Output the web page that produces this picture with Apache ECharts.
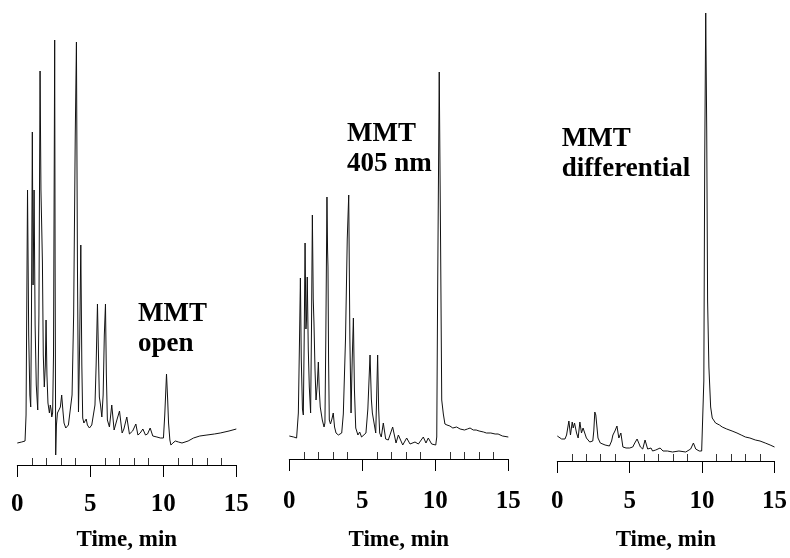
<!DOCTYPE html>
<html>
<head>
<meta charset="utf-8">
<script src="https://cdn.jsdelivr.net/npm/echarts@6/dist/echarts.min.js"></script>
<style>
html, body { margin: 0; padding: 0; background: #fff; }
#main { width: 790px; height: 558px; }
</style>
</head>
<body>
<div id="main"></div>
<script>
// [retention time (min), detector response]
var openTrace = [
    [0, 22], [0.3, 23], [0.53, 24], [0.6, 50], [0.7, 275], [0.78, 130], [0.86, 70], [0.92, 58],
    [0.97, 150], [1.03, 333], [1.08, 180], [1.15, 275], [1.22, 140], [1.3, 80], [1.4, 55],
    [1.48, 150], [1.56, 394], [1.62, 275], [1.67, 240], [1.72, 203], [1.78, 110], [1.85, 78],
    [1.92, 100], [1.97, 145], [2.03, 90], [2.1, 62], [2.2, 52], [2.26, 60], [2.31, 56], [2.36, 48],
    [2.42, 52], [2.48, 110], [2.53, 300], [2.56, 425], [2.59, 200], [2.63, 10], [2.68, 40],
    [2.75, 52], [2.85, 55], [2.95, 58], [3.04, 70], [3.12, 55], [3.2, 42], [3.32, 37], [3.5, 40],
    [3.62, 42], [3.75, 70], [3.86, 150], [3.97, 330], [4.05, 423], [4.12, 200], [4.19, 53],
    [4.27, 120], [4.35, 220], [4.42, 100], [4.48, 47], [4.56, 42], [4.64, 40], [4.72, 46],
    [4.8, 40], [4.94, 37], [5.1, 40], [5.21, 42], [5.32, 60], [5.4, 100], [5.49, 161], [5.56, 110],
    [5.62, 68], [5.7, 60], [5.79, 48], [5.88, 70], [5.96, 130], [6.04, 161], [6.1, 90], [6.17, 45],
    [6.31, 38], [6.47, 60], [6.63, 35], [6.82, 45], [7.0, 54], [7.18, 32], [7.3, 36], [7.5, 48],
    [7.68, 31], [7.9, 34], [8.12, 41], [8.26, 30], [8.42, 32], [8.6, 36], [8.78, 30], [8.92, 31],
    [9.1, 37], [9.28, 29], [9.56, 28], [9.8, 27], [10.01, 27], [10.1, 50], [10.22, 91], [10.3, 65],
    [10.36, 42], [10.45, 25], [10.52, 20], [10.66, 22], [10.82, 24], [11.04, 23], [11.28, 22],
    [11.7, 24], [12.07, 27], [12.5, 29], [12.99, 30], [13.5, 31], [13.9, 32], [14.5, 34], [15, 36]
];

var nm405Trace = [
    [0, 23], [0.3, 22], [0.5, 21], [0.62, 46], [0.7, 120], [0.76, 181], [0.82, 100], [0.9, 50],
    [0.96, 44], [1.02, 120], [1.08, 216], [1.14, 130], [1.18, 140], [1.23, 182], [1.3, 110],
    [1.37, 72], [1.46, 46], [1.52, 130], [1.58, 244], [1.64, 160], [1.69, 136], [1.76, 90],
    [1.83, 59], [1.92, 75], [1.99, 97], [2.05, 70], [2.12, 52], [2.26, 39], [2.38, 32], [2.44, 36],
    [2.5, 120], [2.58, 262], [2.62, 210], [2.65, 192], [2.69, 100], [2.74, 39], [2.82, 35],
    [2.92, 40], [3.01, 46], [3.1, 32], [3.2, 26], [3.36, 24], [3.59, 26], [3.7, 45], [3.85, 120],
    [3.97, 220], [4.07, 264], [4.15, 120], [4.23, 46], [4.31, 100], [4.39, 141], [4.46, 70],
    [4.55, 31], [4.7, 24], [4.82, 27], [4.95, 22], [5.07, 21], [5.25, 26], [5.38, 50], [5.53, 104],
    [5.62, 60], [5.69, 46], [5.8, 44], [5.92, 26], [5.98, 60], [6.05, 104], [6.12, 50], [6.19, 26],
    [6.3, 22], [6.44, 36], [6.6, 20], [6.78, 19], [7.08, 32], [7.31, 16], [7.47, 24], [7.77, 14],
    [8.04, 21], [8.27, 15], [8.61, 17], [8.84, 15], [9.18, 22], [9.36, 16], [9.52, 21], [9.75, 15],
    [10.03, 14], [10.1, 22], [10.16, 166], [10.27, 387], [10.36, 220], [10.44, 59], [10.55, 45],
    [10.66, 35], [10.8, 34], [11.0, 33], [11.2, 31], [11.46, 32], [11.7, 30], [12.0, 29],
    [12.2, 30], [12.38, 31], [12.6, 29], [12.8, 29], [13.0, 28], [13.3, 27], [13.5, 26],
    [13.8, 26], [14.1, 25], [14.3, 25], [14.6, 23], [15, 22]
];

var diffTrace = [
    [0, 25], [0.3, 22], [0.53, 22], [0.64, 26], [0.8, 40], [0.91, 26], [1.03, 39], [1.1, 33],
    [1.19, 38], [1.33, 28], [1.44, 23], [1.56, 39], [1.67, 28], [1.78, 33], [1.94, 26], [2.01, 23],
    [2.24, 19], [2.35, 18], [2.45, 20], [2.52, 30], [2.59, 49], [2.66, 46], [2.7, 44], [2.81, 23],
    [2.97, 18], [3.1, 19], [3.3, 16], [3.6, 15], [3.75, 20], [3.84, 26], [3.98, 30], [4.12, 35],
    [4.25, 23], [4.39, 28], [4.53, 14], [4.75, 13], [5.0, 13], [5.21, 14], [5.35, 18], [5.51, 22],
    [5.74, 14], [5.9, 12], [6.06, 21], [6.24, 12], [6.47, 13], [6.58, 10], [6.8, 11], [7.1, 13],
    [7.3, 10], [7.6, 10], [7.96, 9], [8.4, 10], [8.87, 9], [9.21, 12], [9.4, 18], [9.56, 12],
    [9.8, 10], [9.97, 10], [10.06, 12], [10.12, 80], [10.18, 300], [10.25, 448], [10.32, 330],
    [10.38, 160], [10.47, 94], [10.59, 54], [10.7, 43], [10.93, 38], [11.2, 36], [11.39, 34],
    [11.7, 32], [12.07, 30], [12.41, 28], [12.7, 26], [12.99, 24], [13.3, 23], [13.68, 21],
    [14.0, 20], [14.36, 18], [14.7, 16], [15, 14]
];

var traces = [openTrace, nm405Trace, diffTrace];
var panelLabels = ['MMT\nopen', 'MMT\n405 nm', 'MMT\ndifferential'];
var axisTitle = 'Time, min';
var timeMin = 0;
var timeMax = 15;
var timeStep = 5;

var serif = '"Liberation Serif", "Times New Roman", serif';

// panel placement
var panels = [
    { left: 17.3, bottom: 93, yMax: 465, nameGap: 64, labelMargin: 27, labelX: 138, labelY: 299 },
    { left: 289.3, bottom: 99, yMax: 459, nameGap: 70, labelMargin: 30, labelX: 347, labelY: 119 },
    { left: 557.3, bottom: 97, yMax: 461, nameGap: 68, labelMargin: 28, labelX: 561.7, labelY: 124 }
];

var option = {
    backgroundColor: '#fff',
    animation: false,
    grid: [],
    xAxis: [],
    yAxis: [],
    series: [],
    graphic: []
};

for (var i = 0; i < panels.length; i++) {
    var p = panels[i];
    option.grid.push({ left: p.left, width: 219, top: 0, bottom: p.bottom });
    // labelled axis with long ticks hanging down
    option.xAxis.push({
        type: 'value',
        gridIndex: i,
        position: 'bottom',
        min: timeMin,
        max: timeMax,
        interval: timeStep,
        name: axisTitle,
        nameLocation: 'middle',
        nameGap: p.nameGap,
        nameTextStyle: { fontFamily: serif, fontWeight: 'bold', fontSize: 23, color: '#000' },
        axisLine: { lineStyle: { color: '#000', width: 1 } },
        axisTick: { length: 12, lineStyle: { color: '#000', width: 1 } },
        axisLabel: { margin: p.labelMargin, fontFamily: serif, fontWeight: 'bold', fontSize: 25, color: '#000' },
        splitLine: { show: false }
    });
    // short minor ticks pointing up
    option.xAxis.push({
        type: 'value',
        gridIndex: i,
        position: 'bottom',
        min: timeMin,
        max: timeMax,
        interval: timeStep,
        axisLine: { show: false },
        axisTick: { show: false, inside: true },
        minorTick: { show: true, splitNumber: 5, length: 7, lineStyle: { color: '#333', width: 1 } },
        axisLabel: { show: false },
        splitLine: { show: false }
    });
    option.yAxis.push({ type: 'value', gridIndex: i, min: 0, max: p.yMax, show: false });
    option.series.push({
        type: 'line',
        xAxisIndex: i * 2,
        yAxisIndex: i,
        data: traces[i],
        showSymbol: false,
        lineStyle: { color: '#111', width: 1 }
    });
    option.graphic.push({
        type: 'text',
        left: p.labelX,
        top: p.labelY,
        style: {
            text: panelLabels[i],
            font: 'bold 27px ' + serif,
            lineHeight: 30,
            fill: '#000'
        }
    });
}

var myChart = echarts.init(document.getElementById('main'));
option && myChart.setOption(option);
</script>
</body>
</html>
